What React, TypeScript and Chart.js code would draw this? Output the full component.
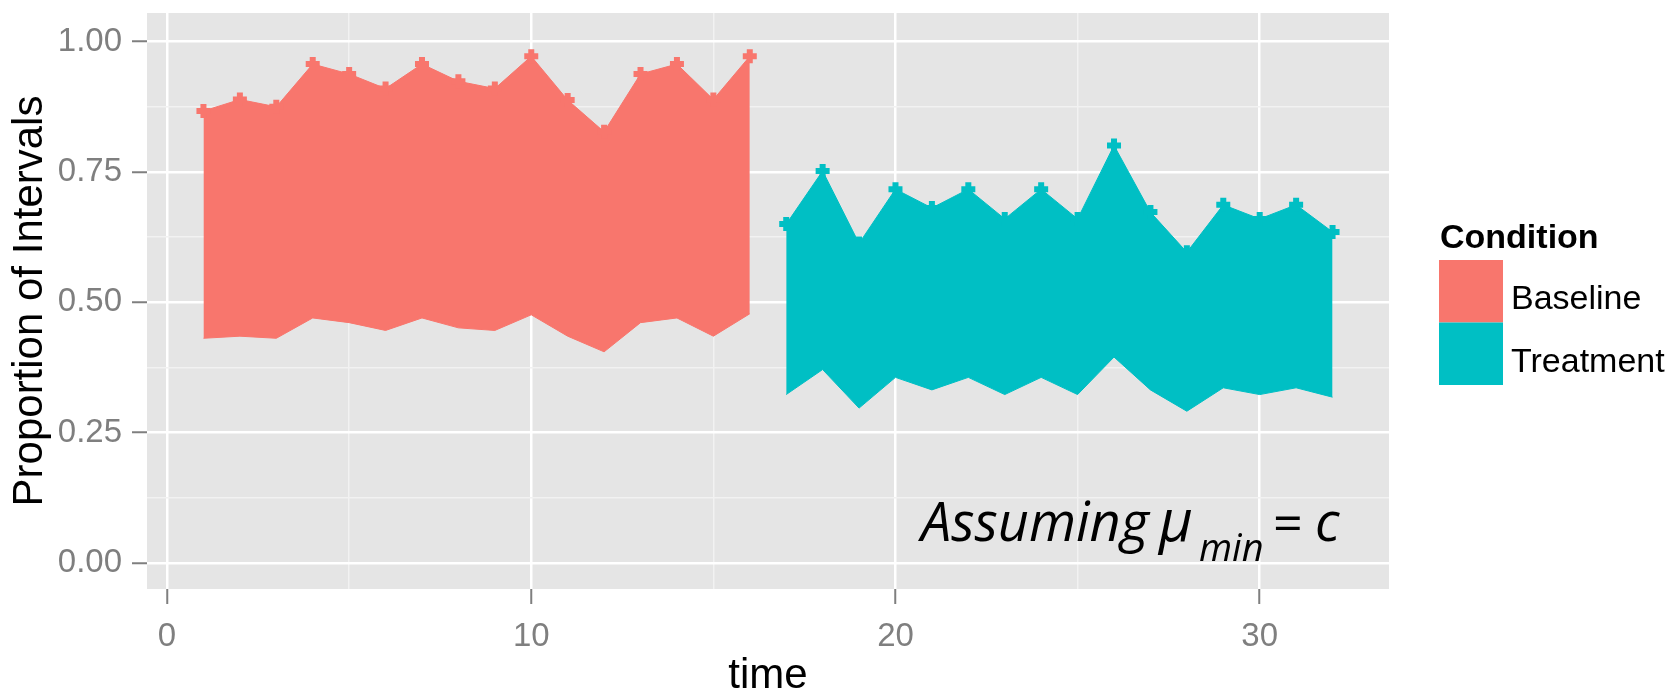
import React, { useEffect, useRef } from 'react';
import { Chart, registerables } from 'chart.js';

Chart.register(...registerables);

const FONT = '"Liberation Sans", Arial, Helvetica, sans-serif';
const ANN_FONT = '"Open Sans", Lato, sans-serif';

// ---------------- data ----------------
const baselineTime = [1, 2, 3, 4, 5, 6, 7, 8, 9, 10, 11, 12, 13, 14, 15, 16];
const baselineUpper = [0.867, 0.889, 0.875, 0.957, 0.938, 0.91, 0.957, 0.924, 0.91, 0.972, 0.888, 0.827, 0.938, 0.957, 0.889, 0.972];
const baselineLower = [0.431, 0.435, 0.431, 0.47, 0.461, 0.446, 0.47, 0.451, 0.446, 0.476, 0.435, 0.405, 0.461, 0.47, 0.435, 0.478];

const treatmentTime = [17, 18, 19, 20, 21, 22, 23, 24, 25, 26, 27, 28, 29, 30, 31, 32];
const treatmentUpper = [0.65, 0.752, 0.613, 0.717, 0.681, 0.717, 0.66, 0.717, 0.66, 0.801, 0.673, 0.596, 0.687, 0.66, 0.687, 0.635];
const treatmentLower = [0.323, 0.371, 0.297, 0.356, 0.332, 0.356, 0.323, 0.356, 0.323, 0.395, 0.332, 0.291, 0.336, 0.323, 0.336, 0.318];

const conditionLabels = ['Baseline', 'Treatment'];
const conditionColors = ['#F8766D', '#00BFC4'];
const legendTitle = 'Condition';

const yTickValues = [0, 0.25, 0.5, 0.75, 1];
const yMinorValues = [0.125, 0.375, 0.625, 0.875];
const xTickValues = [0, 10, 20, 30];
const xMinorValues = [5, 15, 25];

const xTitle = 'time';
const yTitle = 'Proportion of Intervals';

// ---------------- plugins ----------------
const panelPlugin = {
  id: 'panelBg',
  beforeDraw(chart: any) {
    const { ctx, chartArea: a } = chart;
    ctx.save();
    ctx.fillStyle = '#E5E5E5';
    ctx.fillRect(a.left, a.top, a.right - a.left, a.bottom - a.top);
    ctx.restore();
  },
};

const legendPlugin = {
  id: 'ggLegend',
  afterDraw(chart: any) {
    const { ctx, chartArea } = chart;
    const x0 = chartArea.right + 50;
    ctx.save();
    ctx.textAlign = 'left';
    ctx.textBaseline = 'alphabetic';
    ctx.fillStyle = '#000';
    ctx.font = `bold 34px ${FONT}`;
    ctx.fillText(legendTitle, x0 + 1, 248);
    const keyW = 64;
    const keyH = 62.5;
    const keyTop = 260;
    conditionLabels.forEach((lab, i) => {
      ctx.fillStyle = conditionColors[i];
      ctx.fillRect(x0, keyTop + i * keyH, keyW, keyH);
      ctx.fillStyle = '#000';
      ctx.font = `34px ${FONT}`;
      ctx.fillText(lab, x0 + keyW + 8, keyTop + i * keyH + keyH / 2 + 18);
    });
    ctx.restore();
  },
};

const annotationPlugin = {
  id: 'annotation',
  afterDatasetsDraw(chart: any) {
    const { ctx, scales } = chart;
    const x = scales.x.getPixelForValue(20.7);
    const y = scales.y.getPixelForValue(0.042);
    ctx.save();
    ctx.fillStyle = '#000';
    ctx.textAlign = 'left';
    ctx.textBaseline = 'alphabetic';
    const big = `italic 54px ${ANN_FONT}`;
    ctx.font = big;
    ctx.fillText('Assuming', x, y);
    ctx.font = `italic 58px ${ANN_FONT}`;
    ctx.fillText('μ', x + 238, y);
    ctx.font = `italic 38px ${ANN_FONT}`;
    ctx.fillText('min', x + 278, y + 20);
    ctx.font = `52px ${ANN_FONT}`;
    ctx.fillText('=', x + 352, y);
    ctx.font = big;
    ctx.fillText('c', x + 394, y);
    ctx.restore();
  },
};

function band(xs: number[], upper: number[], lower: number[], color: string, label: string) {
  return [
    {
      label,
      data: xs.map((t, i) => ({ x: t, y: upper[i] })),
      borderColor: color,
      backgroundColor: color,
      borderWidth: 1,
      fill: '+1',
      tension: 0,
      pointStyle: 'cross',
      pointRadius: 7,
      pointBorderWidth: 6,
      pointBorderColor: color,
      pointBackgroundColor: color,
    },
    {
      label: label + ' lower',
      data: xs.map((t, i) => ({ x: t, y: lower[i] })),
      borderColor: color,
      backgroundColor: color,
      borderWidth: 1,
      fill: false,
      tension: 0,
      pointRadius: 0,
    },
  ];
}

export default function App() {
  const ref = useRef<HTMLCanvasElement | null>(null);

  useEffect(() => {
    if (!ref.current) return;
    const isXMajor = (v: number) => xTickValues.includes(v);
    const isYMajor = (v: number) => yTickValues.includes(v);
    const chart = new Chart(ref.current, {
      type: 'line',
      data: {
        datasets: [
          ...band(baselineTime, baselineUpper, baselineLower, conditionColors[0], conditionLabels[0]),
          ...band(treatmentTime, treatmentUpper, treatmentLower, conditionColors[1], conditionLabels[1]),
        ] as any,
      },
      options: {
        animation: false,
        responsive: false,
        events: [],
        layout: { padding: { left: 0, right: 286, top: 8, bottom: 0 } },
        plugins: {
          legend: { display: false },
          tooltip: { enabled: false },
        },
        scales: {
          x: {
            type: 'linear',
            min: -0.55,
            max: 33.55,
            afterBuildTicks: (s: any) => {
              s.ticks = [...xTickValues, ...xMinorValues].sort((a, b) => a - b).map((v) => ({ value: v }));
            },
            afterFit: (s: any) => {
              s.height = 108;
              s.paddingLeft = 0;
              s.paddingRight = 0;
            },
            border: { display: false },
            grid: {
              color: (c: any) => (isXMajor(c.tick?.value) ? '#FFFFFF' : '#F2F2F2'),
              lineWidth: (c: any) => (isXMajor(c.tick?.value) ? 2.5 : 1.5),
              tickColor: (c: any) => (isXMajor(c.tick?.value) ? '#7F7F7F' : 'rgba(0,0,0,0)'),
              tickLength: 15,
              tickWidth: 2,
            },
            ticks: {
              autoSkip: false,
              maxRotation: 0,
              color: '#7F7F7F',
              padding: 13,
              font: { family: FONT, size: 33 },
              callback: (v: any) => (isXMajor(Number(v)) ? String(v) : ''),
            },
            title: {
              display: true,
              text: xTitle,
              color: '#000',
              font: { family: FONT, size: 42, lineHeight: 1 },
              padding: { top: 0, bottom: 0 },
            },
          },
          y: {
            type: 'linear',
            min: -0.05,
            max: 1.055,
            afterBuildTicks: (s: any) => {
              s.ticks = [...yTickValues, ...yMinorValues].sort((a, b) => a - b).map((v) => ({ value: v }));
            },
            afterFit: (s: any) => {
              s.width = 147;
              s.paddingTop = 0;
              s.paddingBottom = 0;
            },
            border: { display: false },
            grid: {
              color: (c: any) => (isYMajor(c.tick?.value) ? '#FFFFFF' : '#F2F2F2'),
              lineWidth: (c: any) => (isYMajor(c.tick?.value) ? 2.5 : 1.5),
              tickColor: (c: any) => (isYMajor(c.tick?.value) ? '#7F7F7F' : 'rgba(0,0,0,0)'),
              tickLength: 15,
              tickWidth: 2,
            },
            ticks: {
              autoSkip: false,
              color: '#7F7F7F',
              padding: 10,
              font: { family: FONT, size: 33 },
              callback: (v: any) => (isYMajor(Number(v)) ? Number(v).toFixed(2) : ''),
            },
            title: {
              display: true,
              text: yTitle,
              color: '#000',
              font: { family: FONT, size: 42, lineHeight: 1 },
              padding: { top: 9, bottom: 0 },
            },
          },
        },
      } as any,
      plugins: [panelPlugin, legendPlugin, annotationPlugin],
    });
    return () => chart.destroy();
  }, []);

  return (
    <div style={{ position: 'absolute', left: 0, top: 0, width: 1675, height: 697, background: '#fff' }}>
      <canvas ref={ref} width={1675} height={697} style={{ width: 1675, height: 697, display: 'block' }} />
    </div>
  );
}
